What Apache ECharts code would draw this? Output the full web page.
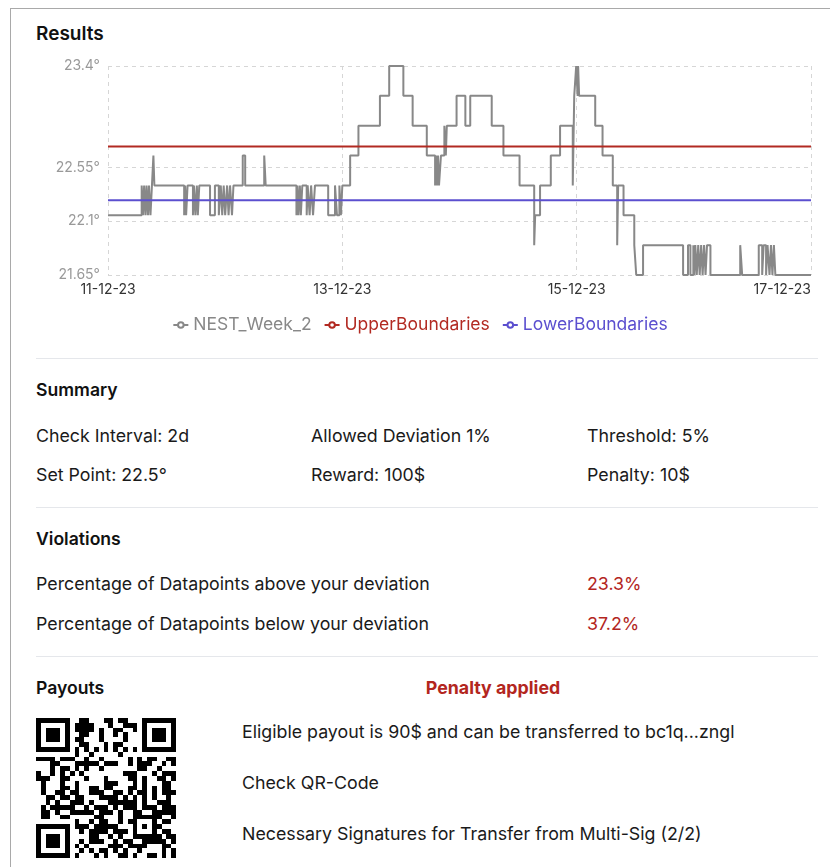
<!DOCTYPE html>
<html><head><meta charset="utf-8">
<script src="https://cdn.jsdelivr.net/npm/echarts@6/dist/echarts.min.js"></script>
<style>
html,body{margin:0;padding:0;background:#fff;width:830px;height:867px;overflow:hidden;font-family:Inter,"Noto Sans",sans-serif;color:#111;}
.card{position:absolute;left:10px;top:8px;width:900px;height:900px;border-left:1px solid #a9a9a9;border-top:1px solid #a9a9a9;}
.t{position:absolute;white-space:nowrap;line-height:20px;height:20px;font-size:17.8px;color:#1a1a1a;}
.h{font-weight:600;color:#111;font-size:17.6px;}
.red{color:#b3261e;}
.hr{position:absolute;left:36px;width:782px;height:1px;background:#e5e7eb;}
#chart{position:absolute;left:10px;top:50px;width:820px;height:300px;}
#qr{position:absolute;left:36px;top:718px;width:140px;height:140px;}
</style>
</head><body>
<div class="card"></div>
<div class="t h" style="left:36px;top:23px;font-size:19px;line-height:22px;height:22px;">Results</div>
<div id="chart"></div>
<div class="hr" style="top:358px"></div>
<div class="t h" style="left:36px;top:380px;">Summary</div>
<div class="t" style="left:36px;top:426px;">Check Interval: 2d</div>
<div class="t" style="left:311px;top:426px;">Allowed Deviation 1%</div>
<div class="t" style="left:587px;top:426px;">Threshold: 5%</div>
<div class="t" style="left:36px;top:465px;">Set Point: 22.5°</div>
<div class="t" style="left:311px;top:465px;">Reward: 100$</div>
<div class="t" style="left:587px;top:465px;">Penalty: 10$</div>
<div class="hr" style="top:507px"></div>
<div class="t h" style="left:36px;top:529px;">Violations</div>
<div class="t" style="left:36px;top:574px;">Percentage of Datapoints above your deviation</div>
<div class="t red" style="left:587px;top:574px;">23.3%</div>
<div class="t" style="left:36px;top:614px;">Percentage of Datapoints below your deviation</div>
<div class="t red" style="left:587px;top:614px;">37.2%</div>
<div class="hr" style="top:656px"></div>
<div class="t h" style="left:36px;top:678px;">Payouts</div>
<div class="t red" style="left:493px;top:678px;transform:translateX(-50%);font-weight:700;">Penalty applied</div>
<svg id="qr" viewBox="0 0 29 29" shape-rendering="crispEdges"></svg>
<div class="t" style="left:242px;top:722px;">Eligible payout is 90$ and can be transferred to bc1q...zngl</div>
<div class="t" style="left:242px;top:773px;">Check QR-Code</div>
<div class="t" style="left:242px;top:824px;">Necessary Signatures for Transfer from Multi-Sig (2/2)</div>
<script>
// ---- chart data ----
const xTickLabels = ['11-12-23', '13-12-23', '15-12-23', '17-12-23'];
const yTickValues = [21.65, 22.1, 22.55, 23.4];
const seriesNames = ['NEST_Week_2', 'UpperBoundaries', 'LowerBoundaries'];
const seriesColors = ['#888888', '#b22a22', '#5b4fcf'];
const upperBoundary = 22.725;
const lowerBoundary = 22.275;
// hours since 11-12-23 00:00 where the reading changes
const hours = [
  0, 6.9, 7.2, 7.4, 7.7, 7.9, 8.2, 8.4, 8.7, 9.0, 9.3, 9.5,
  15.6, 15.8, 16.0, 16.3, 17.4, 17.6, 17.9, 18.2, 18.4, 18.7,
  20.9, 21.9, 22.7, 23.1, 23.4, 23.7, 24.0, 24.4, 24.7, 25.0, 25.4, 25.7,
  27.6, 28.1, 32.0, 32.3,
  38.6, 38.8, 39.0, 39.3, 39.5, 39.8, 40.7, 40.9, 41.3, 41.6, 42.0, 42.4,
  45.1, 46.5, 46.9, 47.4, 47.7, 48.0,
  49.6, 51.3, 55.7, 57.6, 60.5, 62.4, 65.3,
  67.0, 67.2, 67.4, 67.6, 67.8, 68.2, 68.9, 69.2, 69.4,
  71.4, 73.2, 74.2, 78.6, 81.0, 84.3, 87.3, 87.5, 88.5, 90.7, 92.6,
  95.2, 95.5, 95.9, 96.2, 96.3, 96.5, 99.8, 101.3, 103.4, 104.3, 104.5,
  105.6, 107.8, 108.2, 109.6, 117.8,
  118.8, 119.3, 119.9, 120.1, 120.3, 120.6, 120.9, 121.2, 121.5, 121.8, 122.1, 122.4, 122.7, 123.4,
  129.5, 129.9,
  133.3, 134.0, 134.3, 134.8, 135.1, 135.5, 135.8, 136.1, 136.4, 136.7, 144
];
const temps = [
  22.15, 22.4, 22.15, 22.4, 22.15, 22.4, 22.15, 22.4, 22.15, 22.4, 22.65, 22.4,
  22.15, 22.4, 22.15, 22.4, 22.15, 22.4, 22.15, 22.4, 22.15, 22.4,
  22.15, 22.4, 22.15, 22.4, 22.15, 22.4, 22.15, 22.4, 22.15, 22.4, 22.15, 22.4,
  22.65, 22.4, 22.65, 22.4,
  22.15, 22.4, 22.15, 22.4, 22.15, 22.4, 22.15, 22.4, 22.15, 22.4, 22.15, 22.4,
  22.15, 22.4, 22.15, 22.4, 22.15, 22.4,
  22.65, 22.9, 23.15, 23.4, 23.15, 22.9, 22.65,
  22.4, 22.65, 22.4, 22.65, 22.4, 22.65, 22.9, 22.65, 22.9,
  23.15, 22.9, 23.15, 22.9, 22.65, 22.4, 21.9, 22.15, 22.4, 22.65, 22.9,
  22.4, 23.15, 23.4, 23.15, 23.4, 23.15, 22.9, 22.65, 22.4, 21.9, 22.4,
  22.15, 21.9, 21.65, 21.9, 21.65,
  21.9, 21.65, 21.9, 21.65, 21.9, 21.65, 21.9, 21.65, 21.9, 21.65, 21.9, 21.65, 21.9, 21.65,
  21.9, 21.65,
  21.9, 21.65, 21.9, 21.65, 21.9, 21.65, 21.9, 21.65, 21.9, 21.65, 21.65
];
const xMax = 144, xStep = 48;

const chart = echarts.init(document.getElementById('chart'), null, {renderer: 'canvas'});
const font = 'Inter';
chart.setOption({
  animation: false,
  color: seriesColors,
  textStyle: {fontFamily: font},
  grid: {left: 98, right: 19, top: 16, bottom: 75},
  legend: {
    top: 261, left: 'center', itemWidth: 15, itemHeight: 7, itemGap: 12,
    textStyle: {fontSize: 17.5, fontFamily: font},
    data: seriesNames.map((n, i) => ({name: n, textStyle: {color: seriesColors[i]}}))
  },
  xAxis: {
    type: 'value', min: 0, max: xMax, interval: xStep,
    axisLine: {show: false}, axisTick: {show: false},
    splitLine: {show: true, lineStyle: {type: [4, 4], color: '#d6d6d6'}},
    axisLabel: {color: '#333', fontSize: 14, margin: 8, alignMaxLabel: 'right', fontFamily: font,
      formatter: v => xTickLabels[Math.round(v / xStep)]}
  },
  yAxis: {
    type: 'value', min: yTickValues[0], max: yTickValues[yTickValues.length - 1],
    axisLine: {show: false},
    axisTick: {show: false, customValues: yTickValues},
    axisLabel: {customValues: yTickValues, color: '#999', fontSize: 14, margin: 8, fontFamily: font,
      formatter: v => v + '°'},
    splitLine: {show: true, lineStyle: {type: [4, 4], color: '#d6d6d6'}}
  },
  series: [
    {name: seriesNames[0], type: 'line', step: 'end', showSymbol: false, symbol: 'emptyCircle',
     lineStyle: {width: 2, color: seriesColors[0]}, data: hours.map((h, i) => [h, temps[i]])},
    {name: seriesNames[1], type: 'line', showSymbol: false, symbol: 'emptyCircle',
     lineStyle: {width: 2, color: seriesColors[1]}, data: [[0, upperBoundary], [xMax, upperBoundary]]},
    {name: seriesNames[2], type: 'line', showSymbol: false, symbol: 'emptyCircle',
     lineStyle: {width: 2, color: seriesColors[2]}, data: [[0, lowerBoundary], [xMax, lowerBoundary]]}
  ]
});

// ---- decorative QR code ----
(function () {
  const N = 29, svg = document.getElementById('qr');
  const m = [];
  for (let r = 0; r < N; r++) { m.push([]); for (let c = 0; c < N; c++) m[r].push(null); }
  function finder(r0, c0) {
    for (let r = -1; r <= 7; r++) for (let c = -1; c <= 7; c++) {
      const rr = r0 + r, cc = c0 + c;
      if (rr < 0 || cc < 0 || rr >= N || cc >= N) continue;
      const inRing = r >= 0 && r <= 6 && c >= 0 && c <= 6 && (r === 0 || r === 6 || c === 0 || c === 6);
      const inCore = r >= 2 && r <= 4 && c >= 2 && c <= 4;
      m[rr][cc] = inRing || inCore ? 1 : 0;
    }
  }
  finder(0, 0); finder(0, N - 7); finder(N - 7, 0);
  for (let i = 8; i < N - 8; i++) { m[6][i] = i % 2 === 0 ? 1 : 0; m[i][6] = i % 2 === 0 ? 1 : 0; }
  for (let r = -2; r <= 2; r++) for (let c = -2; c <= 2; c++) {
    m[22 + r][22 + c] = (Math.max(Math.abs(r), Math.abs(c)) !== 1) ? 1 : 0;
  }
  const bits = [];
  for (let r = 0; r < N; r++) for (let c = 0; c < N; c++) {
    let v = m[r][c];
    if (v === null) {
      let h = Math.imul((r + 1) * 131 + (c + 1) * 7919, 2654435761) >>> 0;
      h ^= h >>> 13; h = Math.imul(h, 1274126177) >>> 0; h ^= h >>> 16;
      v = (h & 1023) < 540 ? 1 : 0;
    }
    if (v) bits.push('<rect x="' + c + '" y="' + r + '" width="1" height="1"/>');
  }
  svg.innerHTML = '<g fill="#000">' + bits.join('') + '</g>';
})();
</script>
</body></html>
